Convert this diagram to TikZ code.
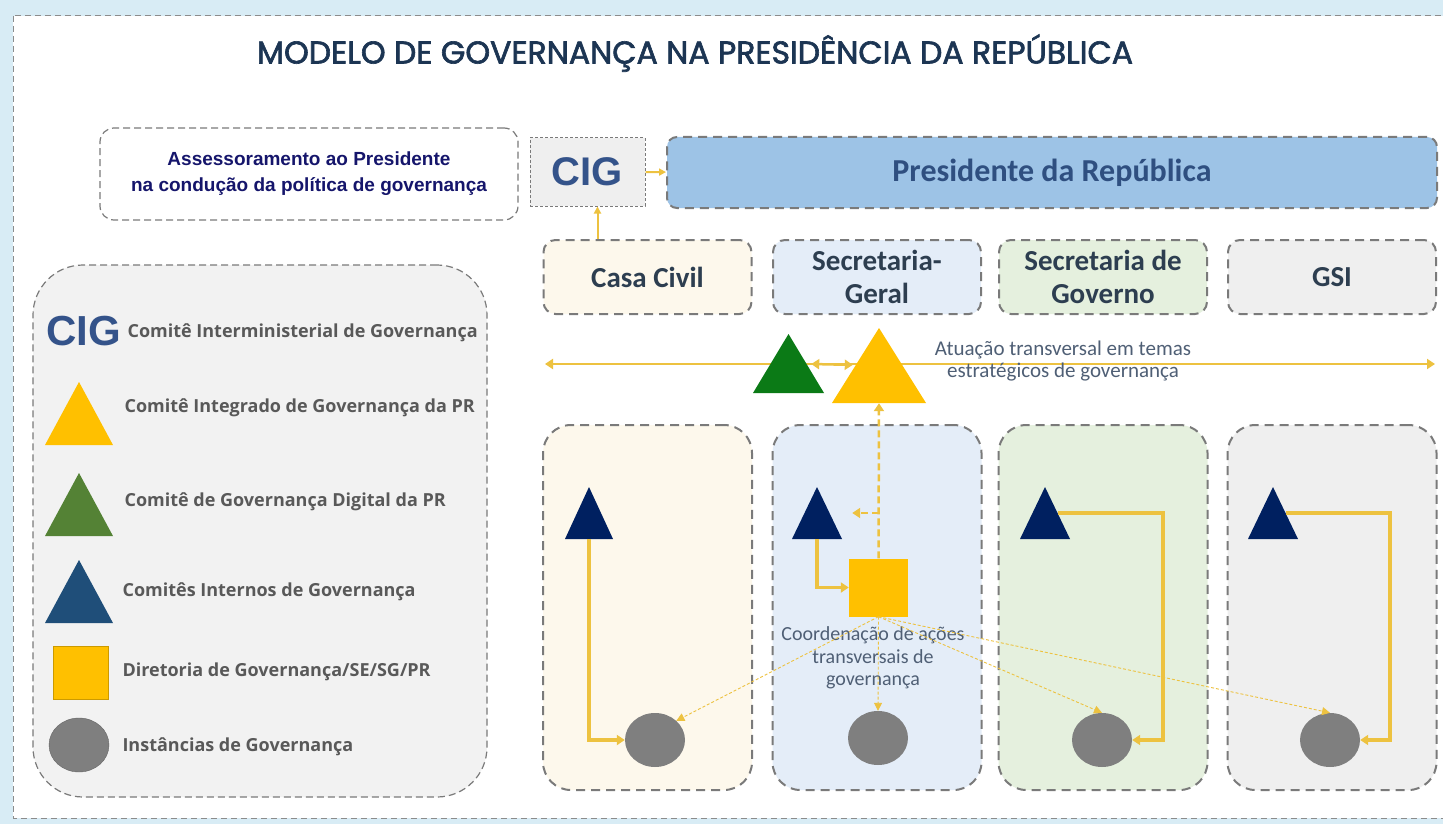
\documentclass[tikz,border=0pt]{standalone}
\usepackage{fontspec}
\setmainfont{Carlito}
\newfontfamily\arialfont{Liberation Sans}
\newfontfamily\titlefont[FakeBold=2]{Poppins}
\newfontfamily\legendfont{Open Sans}
\usetikzlibrary{shapes.geometric,arrows.meta}

\definecolor{bgblue}{HTML}{D8ECF5}
\definecolor{framegray}{HTML}{8C8C8C}
\definecolor{boxgray}{HTML}{7A7A7A}
\definecolor{presblue}{HTML}{9DC3E6}
\definecolor{titleblue}{HTML}{1C3553}
\definecolor{navytext}{HTML}{15156B}
\definecolor{cigblue}{HTML}{34538A}
\definecolor{headtext}{HTML}{2D3E50}
\definecolor{prestext}{HTML}{2F4F80}
\definecolor{legtext}{HTML}{595959}
\definecolor{notetext}{HTML}{4F5F75}
\definecolor{gold}{HTML}{FFC000}
\definecolor{linkgold}{HTML}{EDC240}
\definecolor{creamfill}{HTML}{FDF8EC}
\definecolor{bluefill}{HTML}{E4EDF8}
\definecolor{greenfill}{HTML}{E5F0DE}
\definecolor{grayfill}{HTML}{EFEFEF}
\definecolor{legfill}{HTML}{F2F2F2}
\definecolor{cignavy}{HTML}{002060}
\definecolor{digigreen}{HTML}{0B7A16}
\definecolor{leggreen}{HTML}{548235}
\definecolor{legnavy}{HTML}{1F4E79}
\definecolor{instgray}{HTML}{7F7F7F}

\begin{document}
\begin{tikzpicture}[
    x=1pt, y=-1pt,
    frame/.style={draw=framegray, line width=1pt, dash pattern=on 6pt off 4pt},
    dbox/.style={draw=boxgray, line width=2pt, dash pattern=on 9pt off 6pt, inner sep=0},
    thinbox/.style={draw=boxgray, line width=1.2pt, dash pattern=on 7pt off 4pt, inner sep=0},
    hdr/.style={dbox, rounded corners=12pt, minimum width=208pt, minimum height=74pt,
        align=center, text=headtext, font=\fontsize{29}{33}\selectfont\bfseries},
    col/.style={dbox, rounded corners=28pt, minimum width=209pt, minimum height=365pt},
    tri/.style n args={3}{inner sep=0, minimum width=#1, minimum height=#2,
        path picture={\fill[#3] (path picture bounding box.south west)
            -- (path picture bounding box.south east)
            -- (path picture bounding box.north) -- cycle;}},
    inst/.style={ellipse, fill=instgray, inner sep=0, minimum width=60pt, minimum height=54pt},
    legend_label/.style={anchor=west, text=legtext, font=\legendfont\fontsize{18}{20}\selectfont\bfseries},
    note/.style={align=center, text=notetext},
    conn/.style={draw=linkgold, line width=3.5pt, -{Triangle[length=8pt,width=10pt]}},
    dashconn/.style={draw=linkgold, line width=2.5pt, dash pattern=on 7pt off 4pt,
        -{Triangle[length=8pt,width=10pt]}},
    dotconn/.style={draw=linkgold, line width=0.9pt, dash pattern=on 3pt off 2pt,
        -{Triangle[length=8pt,width=8pt]}},
    bar/.style={draw=linkgold, line width=2.5pt,
        {Triangle[length=8pt,width=10pt]}-{Triangle[length=8pt,width=10pt]}}
]
    % fundo e moldura
    \clip (0,0) rectangle (1443,824);
    \fill[bgblue] (0,0) rectangle (1443,824);
    \filldraw[fill=white, frame] (13,16) rectangle (1460,818);

    \node[text=titleblue, font=\titlefont\fontsize{31.5}{34}\selectfont] (title) at (695,53)
        {MODELO DE GOVERNANÇA NA PRESIDÊNCIA DA REPÚBLICA};

    % topo
    \node[thinbox, fill=white, rounded corners=14pt, minimum width=418pt, minimum height=92pt,
        align=center, text=navytext, font=\arialfont\fontsize{19}{26}\selectfont\bfseries]
        (assess) at (309,174) {Assessoramento ao Presidente\\na condução da política de governança};
    \node[draw=boxgray, fill=grayfill, line width=1pt, dash pattern=on 3pt off 2pt,
        minimum width=115pt, minimum height=68pt, inner sep=0, text=cigblue,
        font=\arialfont\fontsize{40}{40}\selectfont\bfseries] (cig) at (587.5,172) {CIG};
    \node[dbox, fill=presblue, rounded corners=10pt, minimum width=770pt, minimum height=71pt,
        text=prestext, font=\fontsize{32}{34}\selectfont\bfseries] (pres) at (1052,172.5)
        {Presidente da República};

    % orgaos
    \node[hdr, fill=creamfill] (cc) at (647.5,277) {Casa Civil};
    \node[hdr, fill=bluefill] (sg) at (877,277) {Secretaria-\\Geral};
    \node[hdr, fill=greenfill] (sgov) at (1103,277) {Secretaria de\\Governo};
    \node[hdr, fill=grayfill] (gsi) at (1332,277) {GSI};

    \node[col, fill=creamfill] (col1) at (647.5,607.5) {};
    \node[col, fill=bluefill] (col2) at (877,607.5) {};
    \node[col, fill=greenfill] (col3) at (1103,607.5) {};
    \node[col, fill=grayfill] (col4) at (1332,607.5) {};

    % legenda
    \node[thinbox, fill=legfill, rounded corners=50pt, minimum width=454pt,
        minimum height=532pt] (legend) at (260,531) {};
    \node[text=cigblue, inner sep=0, font=\arialfont\fontsize{42}{42}\selectfont\bfseries]
        (lcig) at (84,331) {CIG};
    \node[tri={68pt}{63pt}{gold}] (lyel) at (79,413.5) {};
    \node[tri={68pt}{63pt}{leggreen}] (lgrn) at (79,504.5) {};
    \node[tri={68pt}{63pt}{legnavy}] (lnav) at (79,591.5) {};
    \node[fill=gold, draw=gold!80!black, minimum width=55pt, minimum height=53pt,
        inner sep=0] (lsq) at (80.5,672.5) {};
    \node[inst, draw=instgray!80!black] (lell) at (79,745) {};
    \node[legend_label] at (124,333) {Comitê Interministerial de Governança};
    \node[legend_label] at (121,408) {Comitê Integrado de Governança da PR};
    \node[legend_label] at (121,502) {Comitê de Governança Digital da PR};
    \node[legend_label] at (119,592) {Comitês Internos de Governança};
    \node[legend_label] at (119,672) {Diretoria de Governança/SE/SG/PR};
    \node[legend_label] at (119,747) {Instâncias de Governança};

    % eixo transversal
    \coordinate (al) at (545,364);
    \coordinate (ar) at (1435,364);
    \draw[bar] (al) -- (ar);
    \node[tri={71pt}{59pt}{digigreen}] (tg) at (788.5,363.5) {};
    \node[tri={94pt}{75pt}{gold}] (ty) at (879,365.5) {};
    \draw[bar, shorten <=-13pt, shorten >=-21pt] (tg) -- (ty);
    \node[note, font=\fontsize{21}{22}\selectfont] (atu) at (1063,361)
        {Atuação transversal em temas\\estratégicos de governança};

    % comites internos e instancias
    \node[tri={48pt}{52pt}{cignavy}] (t1) at (589,513) {};
    \node[tri={50pt}{52pt}{cignavy}] (t2) at (817,513) {};
    \node[tri={50pt}{52pt}{cignavy}] (t3) at (1045,513) {};
    \node[tri={50pt}{52pt}{cignavy}] (t4) at (1273,513) {};
    \node[inst] (e1) at (655,740) {};
    \node[inst] (e2) at (878,738) {};
    \node[inst] (e3) at (1102,740) {};
    \node[inst] (e4) at (1330,740) {};
    \node[fill=gold, minimum width=59pt, minimum height=58pt, inner sep=0] (sq) at (878.5,587.5) {};
    \node[note, font=\fontsize{20}{22.5}\selectfont] (coord) at (873,658)
        {Coordenação de ações\\transversais de\\governança};

    % ligacoes
    \draw[-{Triangle[length=7pt,width=7pt]}, draw=linkgold, line width=2pt] (cig) -- (pres);
    \coordinate (cigfoot) at ([xshift=10pt]cig.south);
    \draw[-{Triangle[length=7pt,width=7pt]}, draw=linkgold, line width=2pt]
        (cigfoot |- cc.north) -- (cigfoot);
    \draw[dashconn] (sq.north) -- (ty.south);
    \draw[dashconn, shorten >=10pt] (sq.north |- t2.east) -- (t2.east);
    \draw[conn] (t1.south) |- (e1.west);
    \draw[conn] (t2.south) |- (sq.west);
    \coordinate (k3) at (1163,600);
    \coordinate (k4) at (1390,600);
    \draw[conn, shorten <=-12pt] (t3.east) -| (k3) |- (e3.east);
    \draw[conn, shorten <=-12pt] (t4.east) -| (k4) |- (e4.east);
    \draw[dotconn] (sq.south) -- (e1.north east);
    \draw[dotconn] (sq.south) -- (e2.north);
    \draw[dotconn] (sq.south) -- (e3.north);
    \draw[dotconn] (sq.south) -- (e4.north);
\end{tikzpicture}
\end{document}
